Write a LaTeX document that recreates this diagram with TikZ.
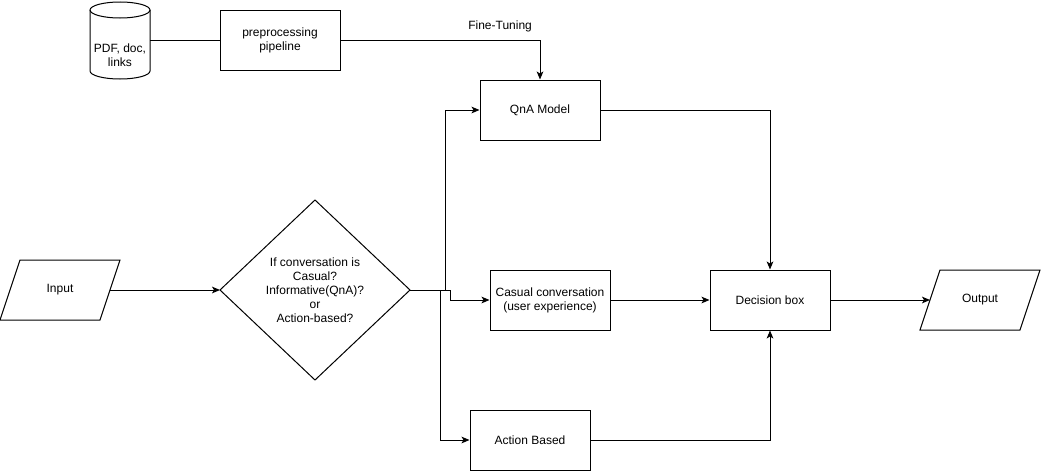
\documentclass[tikz,border=0pt]{standalone}
\usepackage{fontspec}
\setmainfont{Liberation Sans}
\usetikzlibrary{arrows.meta}
\begin{document}
\begin{tikzpicture}[x=0.75pt,y=-0.75pt,
  every node/.style={font=\fontsize{9pt}{10.5pt}\selectfont, align=center, inner sep=0pt},
  box/.style={draw, line width=0.75pt, minimum width=90pt, minimum height=45pt},
  conn/.style={line width=0.75pt, -{Stealth[length=6pt,width=5pt,inset=1.5pt]}},
  plain/.style={line width=0.75pt},
  shp/.style={line width=0.75pt}]
\useasboundingbox (0,0) rectangle (1041,471);
% cylinder
\draw[shp] (90,10) -- (90,71) arc[start angle=180,end angle=0,x radius=30,y radius=8] -- (150,10);
\draw[shp] (120,10) ellipse[x radius=30,y radius=8];
\node (db) at (120,55) {PDF, doc,\\links};
\coordinate (dbR) at (150,40);
% preprocessing
\node[box] (pre) at (280,40) {preprocessing\\pipeline};
% QnA
\node[box] (qna) at (540,110) {QnA Model};
% Input parallelogram
\draw[shp] (20,260) -- (120,260) -- (100,320) -- (0,320) -- cycle;
\node (in) at (60,290) {Input};
\coordinate (inR) at (110,290);
% diamond
\draw[shp] (315,200) -- (410,290) -- (315,380) -- (220,290) -- cycle;
\node (dia) at (315,290) {If conversation is\\Casual?\\Informative(QnA)?\\or\\Action-based?};
\coordinate (diaL) at (220,290);
\coordinate (diaR) at (410,290);
% casual
\node[box] (cas) at (550,300) {Casual conversation\\(user experience)};
% action
\node[box] (act) at (530,440) {Action Based};
% decision
\node[box] (dec) at (770,300) {Decision box};
% output
\draw[shp] (940,270) -- (1040,270) -- (1020,330) -- (920,330) -- cycle;
\node (out) at (980,300) {Output};
\coordinate (outL) at (930,300);
% connectors
\draw[plain] (dbR) -- (pre.west);
\draw[conn] (pre.east) -| node[pos=0.4, above=6pt] {Fine-Tuning} (qna.north);
\draw[conn] (inR) -- (diaL);
\coordinate (j1) at (445,290);
\coordinate (j2) at (450,290);
\coordinate (j3) at (440,290);
\draw[conn] (diaR) -- (j1) |- (qna.west);
\draw[conn] (diaR) -- (j2) -- ++(0,10) -- (cas.west);
\draw[conn] (diaR) -- (j3) |- (act.west);
\draw[conn] (qna.east) -| (dec.north);
\draw[conn] (cas.east) -- (dec.west);
\draw[conn] (act.east) -| (dec.south);
\draw[conn] (dec.east) -- (outL);
\end{tikzpicture}
\end{document}
